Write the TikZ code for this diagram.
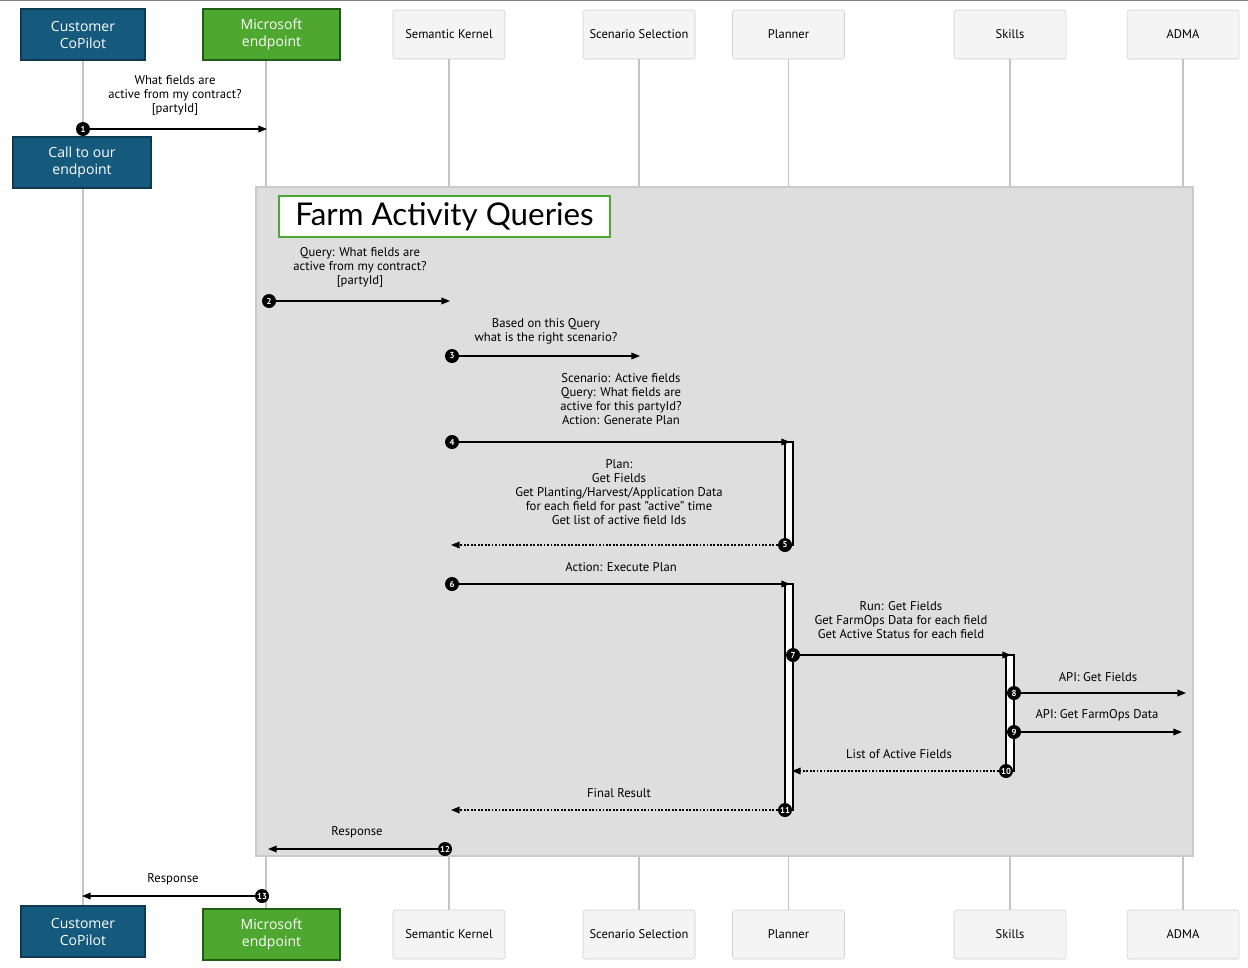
\documentclass[tikz,border=0pt]{standalone}
\usepackage{fontspec}
\setmainfont{PT Sans}
\newfontfamily\boxfont{Open Sans}
\newfontfamily\titlefont{Lato}
\usetikzlibrary{arrows.meta}
\definecolor{cpblue}{HTML}{155A7C}
\definecolor{cpborder}{HTML}{0D3A52}
\definecolor{msgreen}{HTML}{4EA72E}
\definecolor{msborder}{HTML}{1F5C14}
\definecolor{lifeg}{HTML}{C4C4C4}
\definecolor{framefill}{HTML}{DEDEDE}
\definecolor{frameline}{HTML}{CACACA}
\definecolor{greybox}{HTML}{F4F4F4}
\definecolor{greyboxline}{HTML}{CFCFCF}
\begin{document}
\begin{tikzpicture}[x=0.75pt,y=-0.75pt,
  bluebox/.style={draw=cpborder, line width=1.5pt, fill=cpblue, text=white,
    font=\boxfont\fontsize{10.5}{12.75}\selectfont, align=center,
    minimum width=93pt, minimum height=38.25pt, inner sep=0pt},
  greenbox/.style={bluebox, draw=msborder, fill=msgreen, minimum width=102.75pt},
  callbox/.style={bluebox, minimum width=103.5pt},
  actor/.style={draw=greyboxline, fill=greybox, rounded corners=2pt,
    minimum width=84pt, minimum height=36.75pt, inner sep=0pt,
    font=\fontsize{9.4}{11}\selectfont},
  life/.style={draw=lifeg, line width=1.1pt},
  msg/.style={draw=black, line width=1.1pt, -{Triangle[length=6.5pt,width=5pt]}},
  ret/.style={msg, dash pattern=on 1.4pt off 1.2pt},
  num/.style={circle, fill=black, text=white, inner sep=0pt, minimum size=10.5pt,
    font=\bfseries\fontsize{6.5}{7}\selectfont},
  lbl/.style={font=\fontsize{9.5}{10.5}\selectfont, align=center, inner sep=0pt},
  bar/.style={draw=black, fill=white, line width=0.8pt}
]
\useasboundingbox (0,0) rectangle (1248,967);
\fill[white] (0,0) rectangle (1248,967);
\draw[gray, line width=1pt] (0,0.7) -- (1248,0.7);

% top participants
\node[bluebox] (cpT) at (83,34.5) {Customer\\CoPilot};
\node[greenbox] (msT) at (271.5,34.5) {Microsoft\\endpoint};
\node[actor] (skT) at (449,34.5) {Semantic Kernel};
\node[actor] (ssT) at (639,34.5) {Scenario Selection};
\node[actor] (plT) at (788.5,34.5) {Planner};
\node[actor] (slT) at (1010,34.5) {Skills};
\node[actor] (adT) at (1183,34.5) {ADMA};

% bottom participants
\node[bluebox] (cpB) at (83,931.5) {Customer\\CoPilot};
\node[greenbox] (msB) at (271.5,934.5) {Microsoft\\endpoint};
\node[actor] (skB) at (449,934.5) {Semantic Kernel};
\node[actor] (ssB) at (639,934.5) {Scenario Selection};
\node[actor] (plB) at (788.5,934.5) {Planner};
\node[actor] (slB) at (1010,934.5) {Skills};
\node[actor] (adB) at (1183,934.5) {ADMA};

% lifelines
\coordinate (msx) at (266,0);
\draw[life] (cpT) -- (cpB);
\draw[life] (msT.south -| msx) -- (msB.north -| msx);
\draw[life] (skT) -- (skB);
\draw[life] (ssT) -- (ssB);
\draw[life] (plT) -- (plB);
\draw[life] (slT) -- (slB);
\draw[life] (adT) -- (adB);

% call box
\node[callbox] (call) at (82,162.5) {Call to our\\endpoint};

% frame
\draw[frameline, fill=framefill, line width=1pt] (256,187) rectangle (1193,856);
\node[draw=msgreen, line width=1.6pt, fill=white, minimum width=248.25pt,
  minimum height=30.75pt, inner sep=0pt,
  font=\titlefont\fontsize{23.5}{26}\selectfont] (title) at (444.5,216.5) {Farm Activity Queries};

% activation bars
\draw[bar] (785,442) rectangle (793,545);
\draw[bar] (785,584) rectangle (793,810);
\draw[bar] (1006,655) rectangle (1014,771);

% end coordinates
\coordinate (e1) at (267,129);
\coordinate (e2) at (450,301);
\coordinate (e3) at (640,356);
\coordinate (e4) at (790,442);
\coordinate (e5) at (451,545);
\coordinate (e6) at (790,584);
\coordinate (e7) at (1011,655);
\coordinate (e8) at (1186,693);
\coordinate (e9) at (1182,732);
\coordinate (e10) at (792,771);
\coordinate (e11) at (451,810);
\coordinate (e12) at (268,849);
\coordinate (e13) at (82,896);

% number circles
\node[num] (n1) at (83,129) {1};
\node[num] (n2) at (269,301) {2};
\node[num] (n3) at (452,356) {3};
\node[num] (n4) at (452,442) {4};
\node[num] (n5) at (785,545) {5};
\node[num] (n6) at (452,584) {6};
\node[num] (n7) at (793,655) {7};
\node[num] (n8) at (1014,693) {8};
\node[num] (n9) at (1014,732) {9};
\node[num] (n10) at (1006,771) {10};
\node[num] (n11) at (785,810) {11};
\node[num] (n12) at (445,849) {12};
\node[num] (n13) at (262,896) {13};

% messages
\draw[msg] (n1) -- (e1);
\draw[msg] (n2) -- (e2);
\draw[msg] (n3) -- (e3);
\draw[msg] (n4) -- (e4);
\draw[ret] (n5) -- (e5);
\draw[msg] (n6) -- (e6);
\draw[msg] (n7) -- (e7);
\draw[msg] (n8) -- (e8);
\draw[msg] (n9) -- (e9);
\draw[ret] (n10) -- (e10);
\draw[ret] (n11) -- (e11);
\draw[msg] (n12) -- (e12);
\draw[msg] (n13) -- (e13);

% labels
\node[lbl] (l1) at (175,95) {What fields are\\active from my contract?\\{[partyId]}};
\node[lbl] (l2) at (360,267) {Query: What fields are\\active from my contract?\\{[partyId]}};
\node[lbl] (l3) at (546,331) {Based on this Query\\what is the right scenario?};
\node[lbl] (l4) at (621,399) {Scenario: Active fields\\Query: What fields are\\active for this partyId?\\Action: Generate Plan};
\node[lbl] (l5) at (619,492.5) {Plan:\\Get Fields\\Get Planting/Harvest/Application Data\\for each field for past "active" time\\Get list of active field Ids};
\node[lbl] (l6) at (621,567) {Action: Execute Plan};
\node[lbl] (l7) at (901,620) {Run: Get Fields\\Get FarmOps Data for each field\\Get Active Status for each field};
\node[lbl] (l8) at (1098,677) {API: Get Fields};
\node[lbl] (l9) at (1097,715) {API: Get FarmOps Data};
\node[lbl] (l10) at (899,754) {List of Active Fields};
\node[lbl] (l11) at (619,793) {Final Result};
\node[lbl] (l12) at (357,832) {Response};
\node[lbl] (l13) at (173,879) {Response};
\end{tikzpicture}
\end{document}
